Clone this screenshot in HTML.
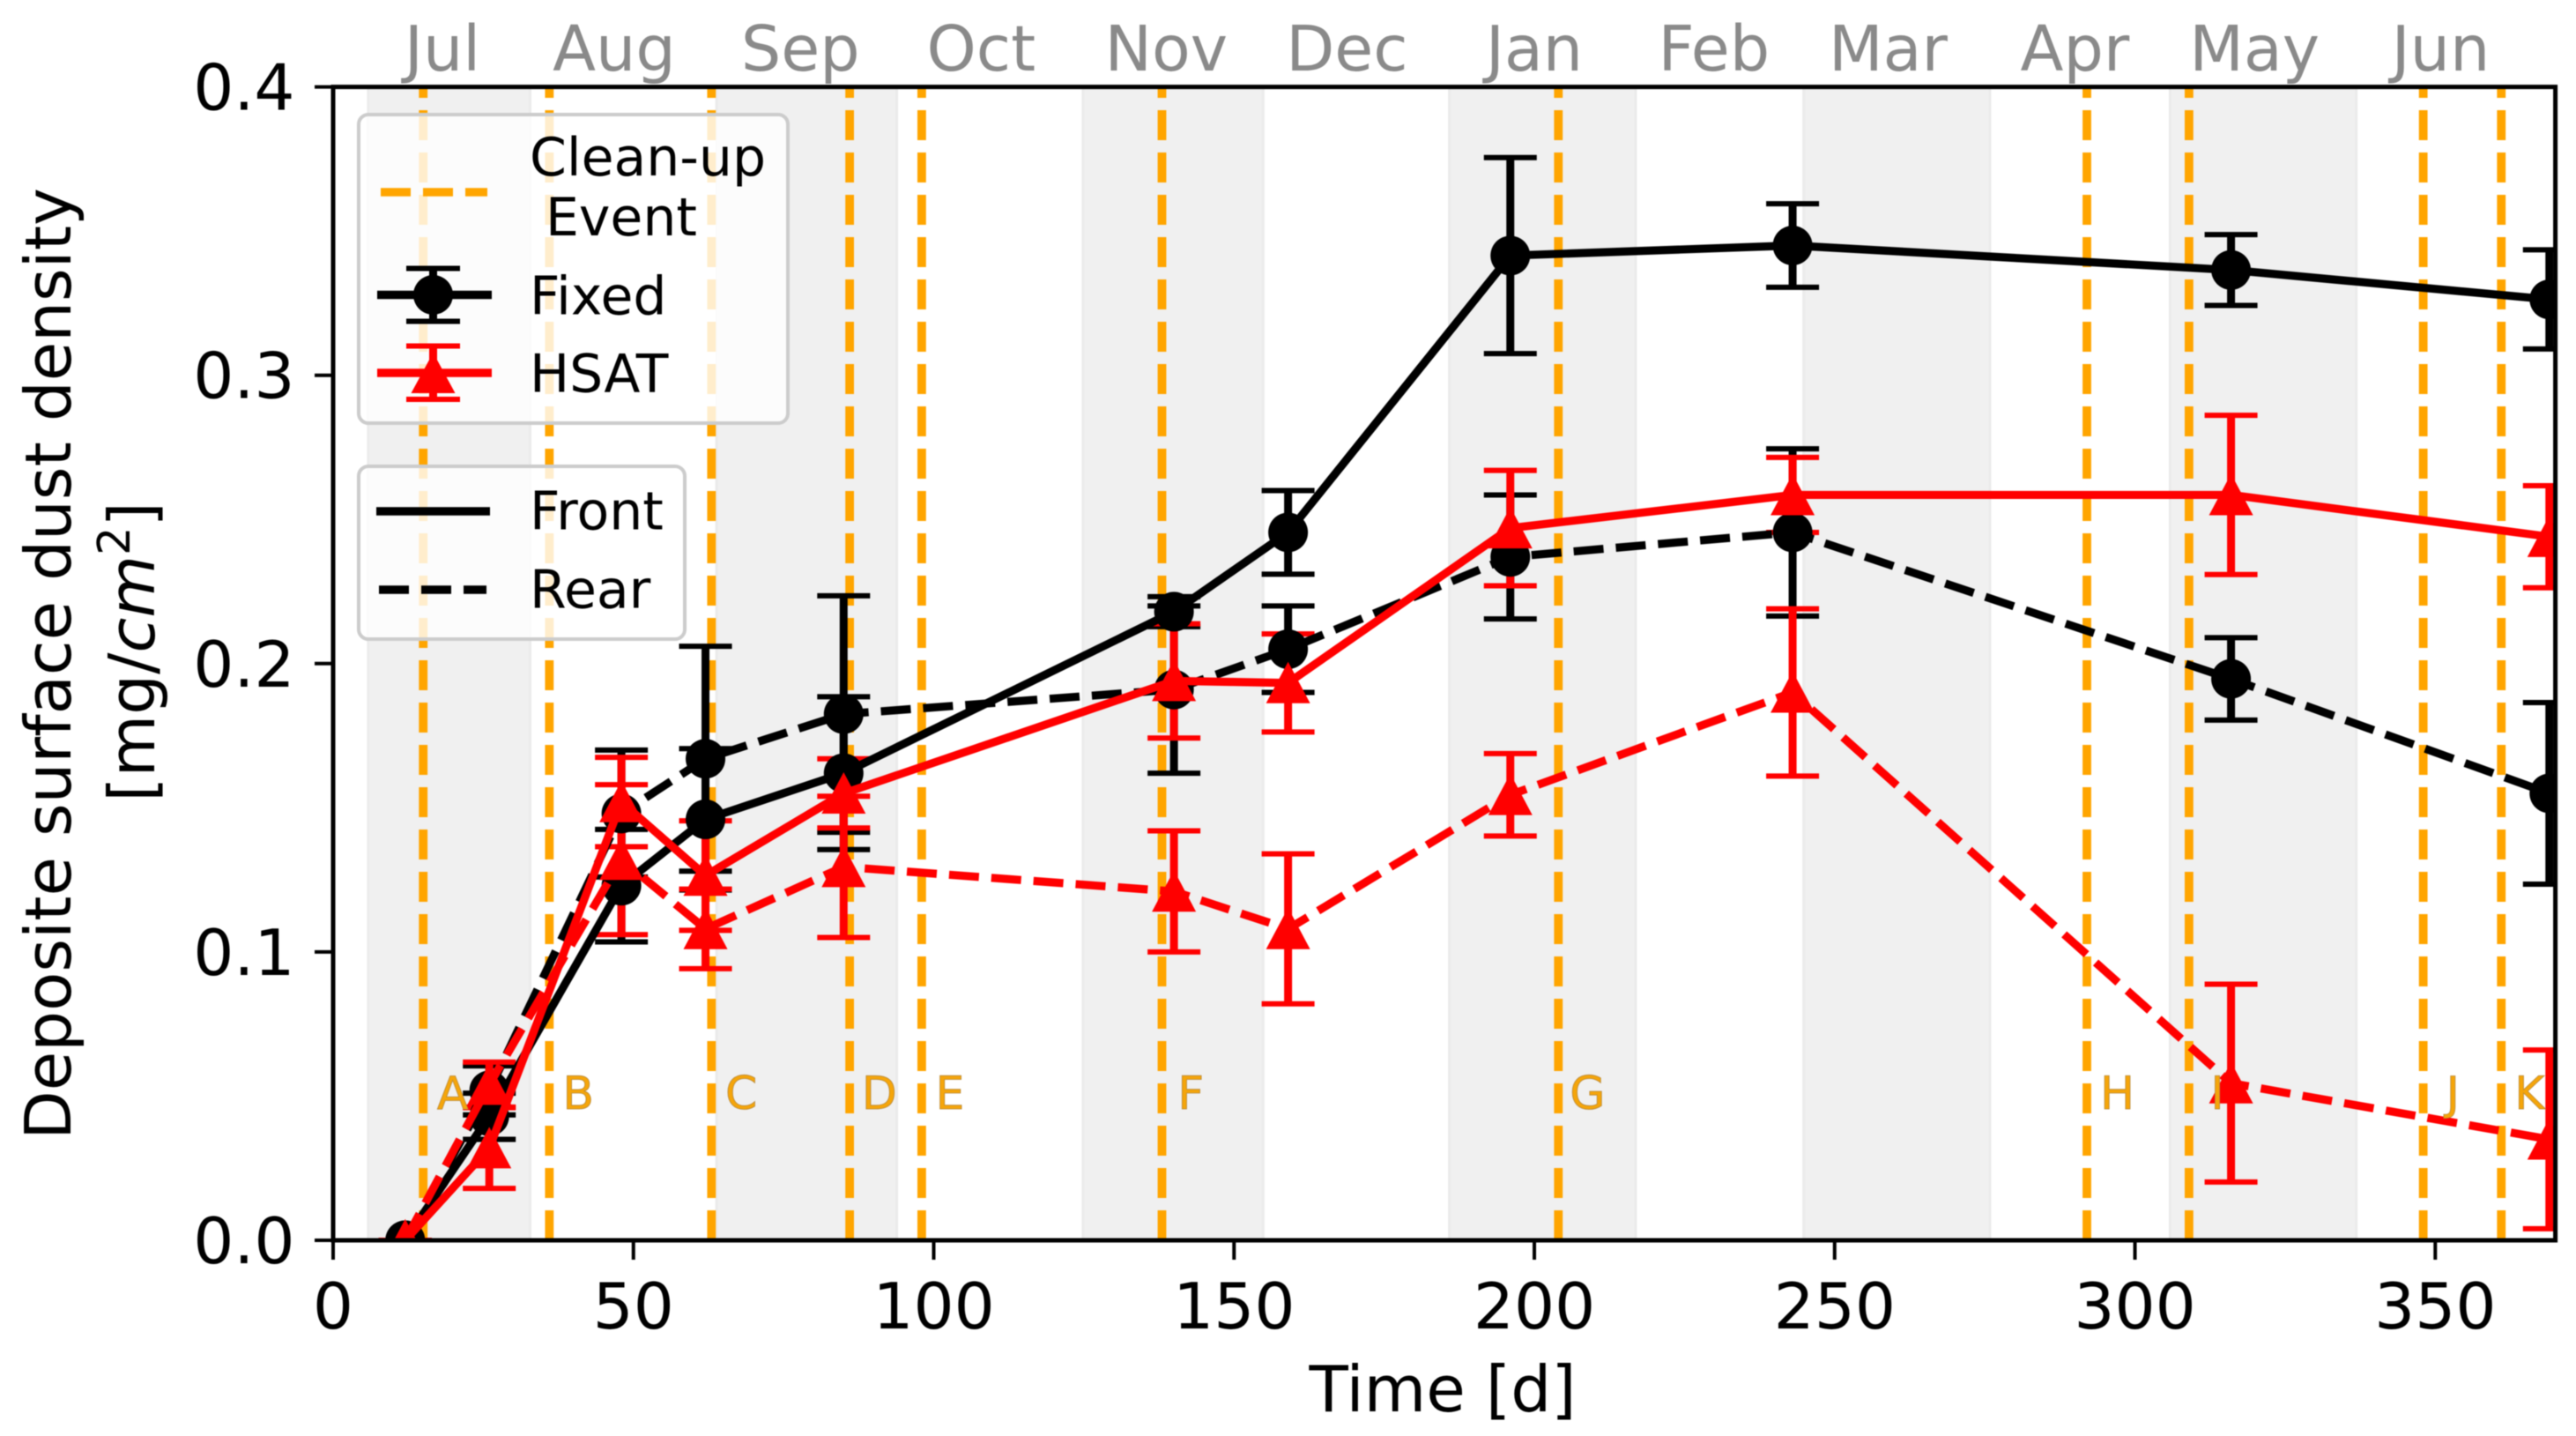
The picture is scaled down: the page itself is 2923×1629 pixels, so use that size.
<!DOCTYPE html>
<html lang="en">
<head>
<meta charset="utf-8">
<title>Deposite surface dust density over time</title>
<style>
html,body{margin:0;padding:0;background:#fff;}
svg{display:block;font-family:"DejaVu Sans","Liberation Sans",sans-serif;filter:blur(0.6px);}
</style>
</head>
<body>
<svg id="chart" xmlns="http://www.w3.org/2000/svg" width="2923" height="1629" viewBox="0 0 2923 1629">
  <defs>
    <clipPath id="plot-clip"><rect x="378" y="98.6" width="2521.6" height="1308.4"/></clipPath>
  </defs>
  <rect x="0" y="0" width="2923" height="1629" fill="#ffffff"/>
  <g id="bands"></g>
  <g id="events" clip-path="url(#plot-clip)"></g>
  <g id="series" clip-path="url(#plot-clip)"></g>
  <g id="eventLabels"></g>
  <g id="axes"></g>

  <g fill="#000">
    <text x="1637" y="1601" font-size="72.5" text-anchor="middle">Time [d]</text>
    <text transform="translate(80,753) rotate(-90)" font-size="72.3" text-anchor="middle">Deposite surface dust density</text>
    <text transform="translate(175,739.5) rotate(-90)" font-size="72.5" text-anchor="middle">[mg/<tspan font-style="italic">cm</tspan><tspan font-size="51" dy="-28">2</tspan><tspan dy="28">]</tspan></text>
  </g>

  <g>
    <rect x="407" y="130" width="487" height="350" rx="11" fill="#ffffff" fill-opacity="0.8" stroke="#cccccc" stroke-width="4"/>
    <line x1="432" y1="218" x2="553" y2="218" stroke="#ffa500" stroke-width="9.5" stroke-dasharray="34 14"/>
    <text x="601" y="199" font-size="60" fill="#000">Clean-up</text>
    <text x="619" y="267" font-size="60" fill="#000">Event</text>
    <g stroke="#000" fill="none">
      <line x1="428" y1="334.5" x2="558" y2="334.5" stroke-width="9.5"/>
      <line x1="491.5" y1="304" x2="491.5" y2="365" stroke-width="9"/>
      <line x1="461" y1="304.5" x2="522" y2="304.5" stroke-width="6"/>
      <line x1="461" y1="364.5" x2="522" y2="364.5" stroke-width="6"/>
      <circle cx="491.5" cy="334.5" r="22.5" fill="#000" stroke="none"/>
    </g>
    <text x="601" y="356.5" font-size="60" fill="#000">Fixed</text>
    <g stroke="#ff0000" fill="none">
      <line x1="428" y1="423" x2="558" y2="423" stroke-width="9.5"/>
      <line x1="491.5" y1="392" x2="491.5" y2="453" stroke-width="9"/>
      <line x1="461" y1="392.5" x2="522" y2="392.5" stroke-width="6"/>
      <line x1="461" y1="453" x2="522" y2="453" stroke-width="6"/>
      <polygon points="491.5,400 466.5,446 516.5,446" fill="#ff0000" stroke="none"/>
    </g>
    <text x="601" y="444.5" font-size="60" fill="#000">HSAT</text>
  </g>

  <g>
    <rect x="407" y="529" width="370" height="196" rx="11" fill="#ffffff" fill-opacity="0.8" stroke="#cccccc" stroke-width="4"/>
    <line x1="427" y1="580" x2="556" y2="580" stroke="#000" stroke-width="9.5"/>
    <text x="601" y="600.5" font-size="60" fill="#000">Front</text>
    <line x1="430" y1="669" x2="552" y2="669" stroke="#000" stroke-width="9.5" stroke-dasharray="34 14"/>
    <text x="601" y="689.5" font-size="60" fill="#000">Rear</text>
  </g>
</svg>

<script>
// ---- Chart data ----
const measurementDays = [12, 26, 48, 62, 85, 140, 159, 196, 243, 316, 369];

const fixedFrontValues = [0, 0.043, 0.123, 0.146, 0.162, 0.218, 0.2455, 0.3415, 0.345, 0.3365, 0.3263];
const fixedFrontErrors = [0, 0.008, 0.0195, 0.0245, 0.0265, 0.0052, 0.0145, 0.034, 0.0145, 0.0123, 0.0172];

const fixedRearValues = [0, 0.052, 0.148, 0.167, 0.1825, 0.191, 0.205, 0.237, 0.2455, 0.1947, 0.155];
const fixedRearErrors = [0, 0.0085, 0.022, 0.039, 0.041, 0.029, 0.015, 0.0215, 0.029, 0.0143, 0.0315];

const hsatFrontValues = [0, 0.032, 0.152, 0.1265, 0.155, 0.194, 0.1933, 0.247, 0.2585, 0.2585, 0.244];
const hsatFrontErrors = [0, 0.014, 0.0155, 0.019, 0.012, 0.0198, 0.017, 0.02, 0.013, 0.0276, 0.0177];

const hsatRearValues = [0, 0.054, 0.132, 0.108, 0.1295, 0.121, 0.108, 0.1545, 0.19, 0.0545, 0.035];
const hsatRearErrors = [0, 0.0078, 0.026, 0.0138, 0.0245, 0.021, 0.026, 0.0143, 0.029, 0.0343, 0.031];

const cleanupDays = [15, 36, 63, 86, 98, 138, 204, 292, 309, 348, 361];
const cleanupLetters = ["A", "B", "C", "D", "E", "F", "G", "H", "I", "J", "K"];
const cleanupLetterDays = [17.3, 38.2, 65.3, 88, 100.3, 140.6, 205.9, 294.2, 312.6, 351.8, 363.2];
const cleanupLetterValue = 0.0455;

const bandStartDays = [5.85, 63.85, 124.85, 185.85, 244.85, 305.85];
const bandEndDays = [32.8, 93.85, 154.85, 216.85, 275.85, 336.85];

const monthLabels = ["Jul", "Aug", "Sep", "Oct", "Nov", "Dec", "Jan", "Feb", "Mar", "Apr", "May", "Jun"];
const monthDays = [18.2, 46.8, 77.8, 107.9, 138.7, 168.8, 200, 229.9, 258.9, 290, 319.9, 350.9];

const xTickValues = [0, 50, 100, 150, 200, 250, 300, 350];
const xTickLabels = ["0", "50", "100", "150", "200", "250", "300", "350"];
const yTickValues = [0, 0.1, 0.2, 0.3, 0.4];
const yTickLabels = ["0.0", "0.1", "0.2", "0.3", "0.4"];

// ---- Axis functions ----
const plotLeft = 378, plotRight = 2899.6, plotTop = 98.6, plotBottom = 1407;
const xMin = 0, xMax = 370, yMin = 0, yMax = 0.4;
function xScale(d) { return plotLeft + (d - xMin) / (xMax - xMin) * (plotRight - plotLeft); }
function yScale(v) { return plotBottom - (v - yMin) / (yMax - yMin) * (plotBottom - plotTop); }

const NS = "http://www.w3.org/2000/svg";
function make(tag, parent, attrs, text) {
  const node = document.createElementNS(NS, tag);
  for (const key in attrs) node.setAttribute(key, attrs[key]);
  if (text !== undefined) node.textContent = text;
  parent.appendChild(node);
  return node;
}

// ---- Month bands ----
const bandsLayer = document.getElementById("bands");
bandStartDays.forEach((start, i) => {
  const band = make("rect", bandsLayer, {
    x: xScale(start), y: plotTop, width: xScale(bandEndDays[i]) - xScale(start), height: plotBottom - plotTop,
    fill: "#f0f0f0", stroke: "#ebebeb", "stroke-width": 3
  });
  
  
});

// ---- Clean-up event lines ----
const eventsLayer = document.getElementById("events");
cleanupDays.forEach((day) => {
  const eventLine = make("line", eventsLayer, {
    x1: xScale(day), x2: xScale(day), y1: yScale(yMin), y2: yScale(yMax),
    stroke: "#ffa500", "stroke-width": 9.8, "stroke-dasharray": "34 14"
  });
  
  
});

// ---- Series ----
const seriesLayer = document.getElementById("series");
const lineWidth = 9.2, barWidth = 9, capWidth = 6, capHalf = 30, circleRadius = 22.5;

function drawErrorBars(values, errors, color, name) {
  const group = make("g", seriesLayer, { stroke: color, fill: "none" });
  
  
  values.forEach((v, i) => {
    const px = xScale(measurementDays[i]);
    const hi = yScale(v + errors[i]);
    const lo = yScale(v - errors[i]);
    make("line", group, { x1: px, x2: px, y1: hi, y2: lo, "stroke-width": barWidth });
    make("line", group, { x1: px - capHalf, x2: px + capHalf, y1: hi, y2: hi, "stroke-width": capWidth });
    make("line", group, { x1: px - capHalf, x2: px + capHalf, y1: lo, y2: lo, "stroke-width": capWidth });
  });
}

function drawLine(values, color, dashed, name) {
  const points = values.map((v, i) => xScale(measurementDays[i]) + "," + yScale(v)).join(" ");
  const attrs = { points: points, fill: "none", stroke: color, "stroke-width": lineWidth, "stroke-linejoin": "round" };
  if (dashed) attrs["stroke-dasharray"] = "34 14";
  const polyline = make("polyline", seriesLayer, attrs);
  
  
}

function drawCircles(values, color, name) {
  values.forEach((v, i) => {
    const marker = make("circle", seriesLayer, { cx: xScale(measurementDays[i]), cy: yScale(v), r: circleRadius, fill: color });
    
    
  });
}

function drawTriangles(values, color, name) {
  values.forEach((v, i) => {
    const px = xScale(measurementDays[i]);
    const py = yScale(v);
    const marker = make("polygon", seriesLayer, {
      points: px + "," + (py - 24) + " " + (px - 25) + "," + (py + 23) + " " + (px + 25) + "," + (py + 23),
      fill: color
    });
    
    
  });
}

drawErrorBars(fixedFrontValues, fixedFrontErrors, "#000000", "fixed-front");
drawErrorBars(fixedRearValues, fixedRearErrors, "#000000", "fixed-rear");
drawErrorBars(hsatRearValues, hsatRearErrors, "#ff0000", "hsat-rear");
drawErrorBars(hsatFrontValues, hsatFrontErrors, "#ff0000", "hsat-front");
drawLine(fixedRearValues, "#000000", true, "fixed-rear");
drawCircles(fixedRearValues, "#000000", "fixed-rear");
drawLine(fixedFrontValues, "#000000", false, "fixed-front");
drawCircles(fixedFrontValues, "#000000", "fixed-front");
drawLine(hsatRearValues, "#ff0000", true, "hsat-rear");
drawTriangles(hsatRearValues, "#ff0000", "hsat-rear");
drawLine(hsatFrontValues, "#ff0000", false, "hsat-front");
drawTriangles(hsatFrontValues, "#ff0000", "hsat-front");

// ---- Clean-up letters ----
const lettersLayer = document.getElementById("eventLabels");
cleanupLetters.forEach((letter, i) => {
  const label = make("text", lettersLayer, {
    x: xScale(cleanupLetterDays[i]), y: yScale(cleanupLetterValue), "font-size": 52,
    fill: "#f5a50a", stroke: "#b98a3a", "stroke-width": 0.8
  }, letter);
  
  
});

// ---- Axes ----
const axesLayer = document.getElementById("axes");
yTickValues.forEach((v, i) => {
  const tick = make("line", axesLayer, { x1: plotLeft - 21, x2: plotLeft, y1: yScale(v), y2: yScale(v), stroke: "#000", "stroke-width": 4 });
  
  
  const label = make("text", axesLayer, { x: 334.5, y: yScale(v) + 26, "font-size": 72.5, "text-anchor": "end", fill: "#000" }, yTickLabels[i]);
  
  
});
xTickValues.forEach((d, i) => {
  const tick = make("line", axesLayer, { x1: xScale(d), x2: xScale(d), y1: plotBottom, y2: plotBottom + 22, stroke: "#000", "stroke-width": 4 });
  
  
  const label = make("text", axesLayer, { x: xScale(d), y: 1507, "font-size": 72.5, "text-anchor": "middle", fill: "#000" }, xTickLabels[i]);
  
  
});
monthLabels.forEach((month, i) => {
  const label = make("text", axesLayer, { x: xScale(monthDays[i]), y: 80, "font-size": 71.5, "text-anchor": "middle", fill: "#8a8a8a" }, month);
  
  
});
const frame = make("rect", axesLayer, { x: plotLeft, y: plotTop, width: plotRight - plotLeft, height: plotBottom - plotTop, fill: "none", stroke: "#000", "stroke-width": 5 });


</script>
</body>
</html>
